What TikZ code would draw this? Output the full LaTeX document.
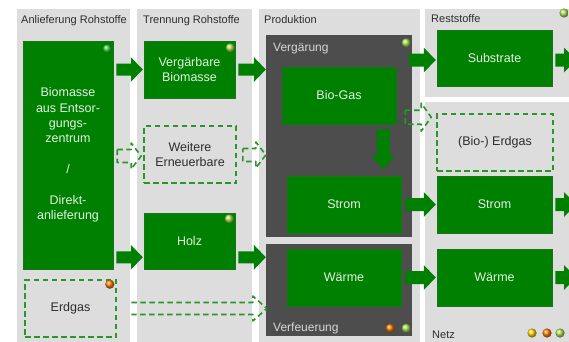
\documentclass[tikz,border=0pt]{standalone}
\usepackage{fontspec}
\setmainfont{Liberation Sans}
\usetikzlibrary{calc,shadings}
\definecolor{panel}{RGB}{221,221,221}
\definecolor{dark}{RGB}{77,77,77}
\definecolor{gfill}{RGB}{0,128,0}
\definecolor{gline}{RGB}{25,115,25}
\definecolor{dgreen}{RGB}{40,150,40}
\definecolor{boxtext}{RGB}{228,242,228}
\definecolor{hdtext}{RGB}{45,45,45}
\definecolor{dktext}{RGB}{215,215,215}
\definecolor{dotgreen}{RGB}{50,210,50}
\definecolor{dotlight}{RGB}{170,225,80}
\definecolor{dotorange}{RGB}{250,120,0}
\definecolor{dotyellow}{RGB}{250,210,0}
\tikzset{
  panelbox/.style={fill=panel, draw=none, anchor=north west, inner sep=0pt},
  darkbox/.style={fill=dark, draw=none, inner sep=0pt},
  gbox/.style={fill=gfill, draw=gline, line width=0.5pt, text=boxtext,
    font=\fontsize{12.5}{15.4}\selectfont, align=center, inner sep=0pt},
  dbox/.style={draw=dgreen, line width=1.6pt, dash pattern=on 5.5pt off 3.5pt,
    text=hdtext, font=\fontsize{12.5}{15.4}\selectfont, align=center, inner sep=0pt},
  hdr/.style={anchor=base west, text=hdtext, font=\fontsize{11}{13}\selectfont, inner sep=0pt},
  dklabel/.style={anchor=base west, text=dktext, font=\fontsize{12}{14}\selectfont, inner sep=0pt},
  blk/.style={fill=gfill, draw=none},
  dsh/.style={draw=dgreen, line width=1.6pt, dash pattern=on 5.5pt off 3.5pt, line join=round},
}
% horizontal block arrow: style, start, end, shaft half, head half, head length
\newcommand\harrow[6]{%
  \path[#1] let \p1=(#2), \p2=(#3) in
    (\x1,\y1+#4) -- (\x2-#6,\y1+#4) -- (\x2-#6,\y1+#5) -- (\x2,\y1)
    -- (\x2-#6,\y1-#5) -- (\x2-#6,\y1-#4) -- (\x1,\y1-#4) -- cycle;}
% vertical (downward) block arrow
\newcommand\varrow[6]{%
  \path[#1] let \p1=(#2), \p2=(#3) in
    (\x1-#4,\y1) -- (\x1-#4,\y2+#6) -- (\x1-#5,\y2+#6) -- (\x1,\y2)
    -- (\x1+#5,\y2+#6) -- (\x1+#4,\y2+#6) -- (\x1+#4,\y1) -- cycle;}
\newcommand\statusdot[2]{\shade[ball color=#1] #2 circle (4.6pt);}
\begin{document}
\begin{tikzpicture}[x=1pt,y=-1pt]
\clip (0,0) rectangle (569,341);
\fill[white] (0,0) rectangle (569,341);
% panels
\node[panelbox, minimum width=113pt, minimum height=340pt] (p1) at (17,9) {};
\node[panelbox, minimum width=115pt, minimum height=340pt] (p2) at (137,9) {};
\node[panelbox, minimum width=161pt, minimum height=340pt] (p3) at (259,9) {};
\node[panelbox, minimum width=150pt, minimum height=88pt] (p4) at (425,9) {};
\node[panelbox, minimum width=150pt, minimum height=245pt] (p5) at (425,102) {};
% headers
\node[hdr] (h1) at (21,23) {Anlieferung Rohstoffe};
\node[hdr] (h2) at (143,23) {Trennung Rohstoffe};
\node[hdr] (h3) at (264,23) {Produktion};
\node[hdr] (h4) at (431,22) {Reststoffe};
\node[hdr] (h5) at (432,338) {Netz};
% dark boxes
\node[darkbox, minimum width=146pt, minimum height=202pt] (vgr) at (339,136) {};
\node[darkbox, minimum width=146pt, minimum height=92pt] (vfe) at (339,290) {};
\node[dklabel] (l1) at (273,51) {Vergärung};
\node[dklabel] (l2) at (273,331) {Verfeuerung};
% green boxes
\node[gbox, minimum width=90pt, minimum height=228pt] (bio) at (68,155)
  {Biomasse\\aus Entsor-\\gungs-\\zentrum\\[15.4pt]/\\[15.4pt]Direkt-\\anlieferung};
\node[gbox, minimum width=91pt, minimum height=57pt] (verg) at (189.5,69.5) {Vergärbare\\Biomasse};
\node[dbox, minimum width=92pt, minimum height=57pt] (weit) at (190,154.5) {Weitere\\Erneuerbare};
\node[gbox, minimum width=91pt, minimum height=56pt] (holz) at (189.5,241) {Holz};
\node[dbox, minimum width=91pt, minimum height=57pt] (erd) at (70.5,308.5) {Erdgas};
\node[gbox, minimum width=114pt, minimum height=57pt] (biogas) at (339,95.5) {Bio-Gas};
\node[gbox, minimum width=114pt, minimum height=57pt] (strom1) at (344,204.5) {Strom};
\node[gbox, minimum width=114pt, minimum height=57pt] (waerme1) at (344,277.5) {Wärme};
\node[gbox, minimum width=115pt, minimum height=56pt] (subst) at (494.5,58) {Substrate};
\node[dbox, minimum width=116pt, minimum height=57pt] (bioerd) at (495,142.5) {(Bio-) Erdgas};
\node[gbox, minimum width=115pt, minimum height=57pt] (strom2) at (494.5,204.5) {Strom};
\node[gbox, minimum width=115pt, minimum height=57pt] (waerme2) at (494.5,277.5) {Wärme};
\coordinate (o1) at (576,60);
\coordinate (o2) at (576,204.5);
\coordinate (o3) at (576,277.5);
% solid block arrows
\harrow{blk}{$(bio.east|-verg.west)+(3,0)$}{$(verg.west)+(-1,0)$}{6pt}{12.5pt}{12pt}
\harrow{blk}{$(bio.east|-holz.south)+(3,-12)$}{$(holz.south west)+(-1,-12)$}{6pt}{12.5pt}{12pt}
\harrow{blk}{$(verg.east)+(3,0)$}{$(vgr.west|-verg.east)+(0,0)$}{6pt}{12.5pt}{12pt}
\harrow{blk}{$(holz.south east)+(3,-12)$}{$(vfe.west|-holz.south)+(0,-12)$}{6pt}{12.5pt}{12pt}
\harrow{blk}{$(vgr.east|-subst.west)+(-3,2)$}{$(subst.west)+(-1,2)$}{6.5pt}{12.5pt}{12pt}
\harrow{blk}{$(strom1.east)+(4,0)$}{$(strom2.west)+(-1,0)$}{6.5pt}{12.5pt}{12pt}
\harrow{blk}{$(waerme1.east)+(4,0)$}{$(waerme2.west)+(-1,0)$}{6.5pt}{12.5pt}{12pt}
\harrow{blk}{$(subst.east)+(3,2)$}{o1}{6.5pt}{12.5pt}{12pt}
\harrow{blk}{$(strom2.east)+(3,0)$}{o2}{6.5pt}{12.5pt}{12pt}
\harrow{blk}{$(waerme2.east)+(3,0)$}{o3}{6.5pt}{12.5pt}{12pt}
\varrow{blk}{$(biogas.south east)+(-13,5)$}{$(strom1.north east)+(-18,-6)$}{6.5pt}{11.5pt}{14pt}
% dashed block arrows
\harrow{dsh}{$(bio.east|-weit.west)+(4,1.5)$}{$(weit.west)+(-2,1.5)$}{6.5pt}{13pt}{10pt}
\harrow{dsh}{$(weit.east)+(6,0.5)$}{$(vgr.west|-weit.east)+(0,0.5)$}{6.5pt}{13pt}{10pt}
\harrow{dsh}{$(vgr.east|-bioerd.north)+(-7,4)$}{$(bioerd.north west)+(-5,4)$}{7pt}{14pt}{10pt}
\draw[dsh] let \p1=($(p1.east|-erd.east)+(1,0)$), \p2=($(vfe.west|-erd.east)+(1,0)$) in
  (\x1,\y1+6pt) -- (\x2-14pt,\y1+6pt) -- (\x2-14pt,\y1+12.5pt) -- (\x2,\y1)
  -- (\x2-14pt,\y1-12.5pt) -- (\x2-14pt,\y1-6pt) -- (\x1,\y1-6pt);
% status dots
\statusdot{dotgreen}{($(bio.north east)+(-6,8)$)}
\statusdot{dotlight}{($(verg.north east)+(-5,7)$)}
\statusdot{dotlight}{($(holz.north east)+(-6,6)$)}
\statusdot{dotorange}{($(erd.north east)+(-7,5)$)}
\statusdot{dotlight}{($(vgr.north east)+(-6,8)$)}
\statusdot{dotorange}{($(vfe.south east)+(-22,-8)$)}
\statusdot{dotlight}{($(vfe.south east)+(-6,-8)$)}
\statusdot{dotlight}{(564,13)}
\statusdot{dotyellow}{(532,333)}
\statusdot{dotorange}{(547,333)}
\statusdot{dotlight}{(560,333)}
\end{tikzpicture}
\end{document}
